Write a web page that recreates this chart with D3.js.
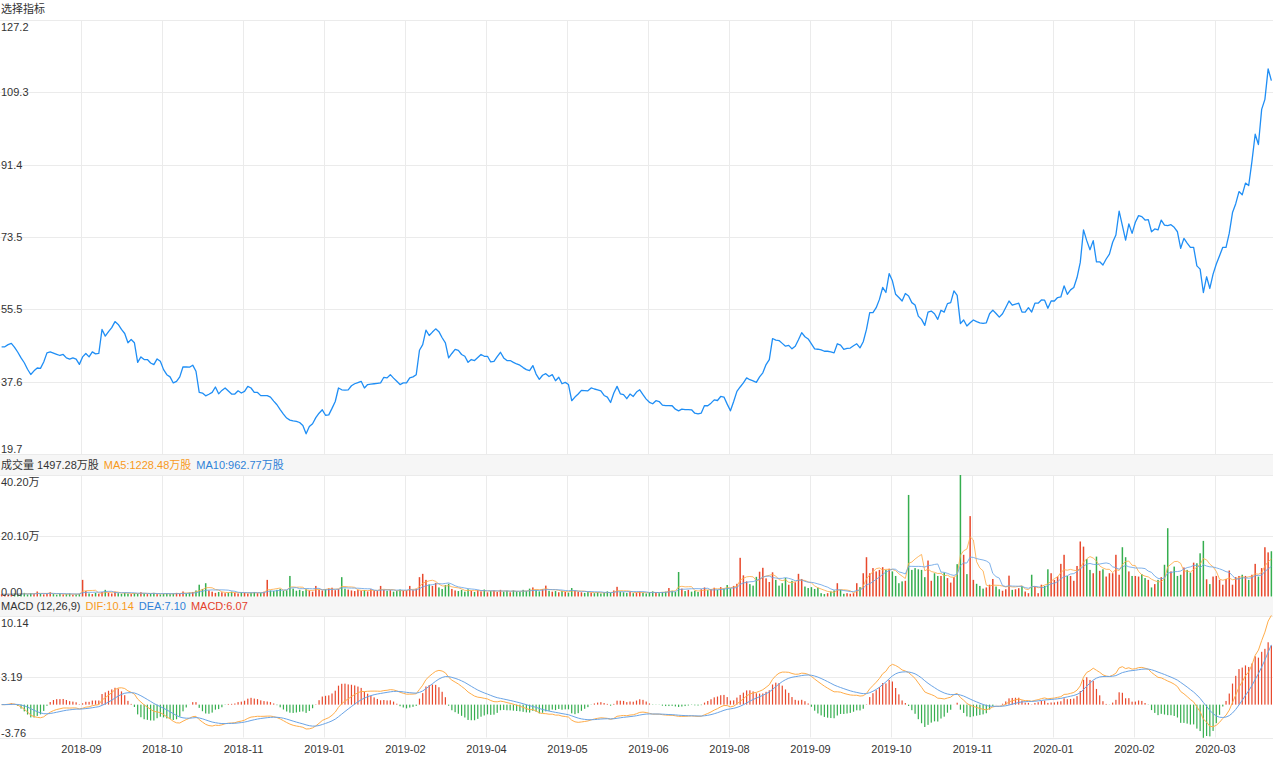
<!DOCTYPE html>
<html><head><meta charset="utf-8">
<script src="https://cdn.jsdelivr.net/npm/d3@7"></script>
<style>
body{margin:0;background:#fff;}
svg{display:block;font-family:"Liberation Sans",Arial,"Noto Sans CJK SC",sans-serif;}
</style></head><body>
<svg id="c" width="1273" height="759"></svg>
<script>
// ---- DATA ----
const closePrices = [
46.25,46.25,46.8,47.1,46.1,44.9,43.5,42.3,40.7,39.4,40.3,41.0,40.9,42.5,44.75,45.0,44.7,44.4,44.1,44.35,
43.5,43.2,43.5,43.2,41.9,43.75,44.6,43.75,45.0,44.5,44.6,50.55,48.9,50.0,51.0,52.5,51.8,50.55,49.55,47.25,
48.05,47.25,42.4,43.75,43.1,43.1,42.25,41.85,43.25,42.65,40.6,39.35,38.8,37.3,37.7,38.8,41.3,41.25,41.2,41.7,
40.2,34.95,34.8,34.1,34.5,34.95,36.3,34.6,35.45,36.05,35.3,34.55,34.55,35.35,34.8,35.2,36.45,36.05,34.95,34.95,
34.15,34.15,34.15,33.8,32.8,31.9,30.7,29.6,28.6,28.1,27.9,27.8,27.5,26.75,24.7,26.5,27.2,28.7,29.8,30.65,
29.3,29.4,31.0,32.7,36.05,35.6,35.5,35.6,36.6,37.1,37.4,37.7,36.05,36.9,37.0,37.1,37.2,37.3,38.7,38.55,
39.35,38.5,37.7,36.9,37.3,37.3,38.55,38.8,39.35,45.4,46.8,50.4,49.05,49.9,50.7,50.0,48.5,47.25,43.5,44.6,
45.6,45.35,44.35,43.9,42.4,43.1,42.85,43.6,44.35,43.9,43.9,42.5,42.65,43.8,44.9,43.5,42.85,42.85,42.4,42.0,
41.7,41.1,40.6,40.35,41.6,39.5,38.2,39.2,39.6,38.9,39.35,37.85,38.7,37.1,37.45,36.9,32.9,33.8,34.55,35.45,
35.4,35.35,36.05,35.8,35.6,35.35,34.2,33.8,32.45,34.8,36.45,34.6,34.4,33.4,34.55,33.95,35.05,35.6,34.4,33.3,
32.5,32.15,32.9,32.7,31.8,31.7,31.7,31.65,30.8,30.4,30.8,30.7,30.7,30.65,29.8,29.65,29.85,31.7,31.65,32.3,
33.1,32.95,33.95,33.8,32.05,30.4,32.7,35.2,36.3,37.3,38.55,38.1,37.8,37.45,38.8,39.8,41.85,43.1,48.3,47.9,
47.8,47.1,46.4,46.6,45.75,46.4,48.0,49.75,48.75,48.2,47.0,45.75,45.65,45.5,45.15,45.15,45.0,44.75,47.0,46.65,
45.6,45.85,45.95,46.5,47.0,46.0,47.5,50.55,54.7,54.7,55.95,58.0,60.95,59.7,64.4,62.6,59.25,58.45,57.6,59.45,
58.85,57.2,56.6,53.85,53.05,51.55,54.85,55.1,54.45,53.05,55.3,54.85,56.95,57.2,60.1,59.0,52.0,52.9,51.4,52.2,
52.9,52.5,52.2,52.05,52.2,54.45,55.35,54.5,53.6,54.45,56.0,57.6,56.55,56.8,57.05,54.85,54.85,55.95,54.85,57.05,
57.05,57.85,57.8,55.8,57.6,57.6,58.45,58.6,61.35,59.25,60.35,60.95,63.4,67.15,75.2,72.55,70.3,72.55,67.3,67.3,
66.5,68.0,69.2,72.15,73.95,79.85,76.25,72.7,76.7,74.35,77.1,78.75,78.5,77.65,77.75,74.75,75.45,75.2,77.65,76.4,
76.25,76.5,75.85,74.75,70.65,73.1,71.95,70.9,70.9,66.3,65.5,59.7,63.6,60.7,64.25,66.75,68.8,70.9,70.9,74.4,
79.5,81.7,84.7,83.9,86.8,86.2,92.2,98.9,96.35,105.05,107.55,115.1,112.2
];
// volume in 万手
const volumes = [
0.8,0.6,0.9,0.7,1.0,0.8,0.9,1.2,0.7,1.1,0.8,1.65,0.9,0.7,1.0,1.4,0.8,0.6,0.9,0.7,0.8,1.0,0.6,0.7,0.9,
5.5,1.8,1.0,0.8,1.2,0.9,1.5,2.2,1.3,1.0,1.6,1.1,0.9,1.2,1.0,0.8,1.1,0.9,1.4,1.0,0.8,0.9,1.2,0.8,0.7,
0.9,1.1,0.8,1.0,1.2,0.9,1.65,1.0,1.3,1.5,2.0,3.9,2.5,4.4,2.0,1.6,1.2,1.5,1.4,1.1,1.3,1.6,1.2,1.0,1.4,
1.2,1.0,1.3,1.5,1.1,1.2,1.6,5.5,2.0,1.8,2.2,2.5,1.9,2.1,6.8,2.6,1.9,2.2,1.8,2.4,2.0,1.6,3.5,2.2,2.0,
2.4,2.7,2.9,2.1,2.5,6.4,2.6,2.3,2.0,1.8,2.2,1.9,2.1,1.7,2.4,2.0,1.8,3.5,2.2,1.9,2.1,1.6,1.8,2.3,1.9,2.0,3.5,2.1,2.6,6.4,
7.5,5.5,4.0,3.5,4.5,3.0,2.5,3.8,4.2,2.5,2.0,1.8,2.2,1.6,2.4,1.9,1.5,2.1,1.7,2.3,1.4,1.8,2.0,1.5,2.2,
1.6,1.9,1.4,2.0,1.7,1.5,2.2,1.8,2.6,3.0,2.1,1.7,2.4,3.6,1.9,1.6,1.8,1.4,1.9,1.5,1.3,2.8,1.9,1.6,1.4,
1.2,1.5,1.3,1.1,1.4,1.0,1.3,1.7,1.2,2.0,3.2,1.6,1.4,1.2,1.5,1.1,1.3,1.6,1.2,1.0,1.4,1.7,1.3,1.1,1.5,
1.6,2.8,1.9,1.5,8.1,2.6,1.8,2.2,1.6,1.9,1.5,2.4,3.0,2.1,2.5,2.9,2.2,3.1,2.6,3.8,2.7,3.5,4.2,12.8,7.0,
5.0,4.1,3.6,6.5,8.2,9.5,6.0,4.8,8.0,5.5,3.6,4.4,6.1,3.9,5.2,4.7,7.5,5.8,3.3,2.8,3.1,2.5,2.9,
1.1,0.8,1.1,1.65,2.0,4.4,2.2,0.9,1.1,0.9,1.1,4.4,3.1,7.7,13.0,7.7,9.4,8.3,8.8,9.7,
8.8,9.2,8.3,6.8,4.4,5.0,5.2,33.6,8.8,9.4,9.0,8.8,6.4,11.9,5.2,7.7,6.8,6.8,7.9,6.1,
4.6,6.4,10.7,40.2,13.8,7.4,26.6,5.5,4.2,3.5,2.6,3.0,3.9,5.8,3.3,2.4,1.9,2.4,6.9,2.2,
2.4,2.75,3.5,1.65,1.1,7.2,3.3,1.1,3.9,3.5,9.0,7.7,5.5,6.6,10.8,13.8,6.8,6.8,5.2,10.1,
18.2,16.5,12.4,8.8,7.7,13.2,8.5,9.0,6.6,7.7,7.7,13.8,7.2,16.3,13.0,8.3,6.8,6.8,6.6,7.4,
6.1,5.5,3.0,4.1,5.5,6.4,10.5,22.6,8.3,9.9,6.8,7.2,9.6,8.8,7.9,11.2,11.0,14.3,18.4,5.7,
4.1,6.6,6.8,5.5,3.9,5.8,8.6,3.9,6.4,6.8,7.2,6.8,5.5,7.2,10.8,6.6,9.4,16.3,14.6,14.97
];
const xTickIndex = [25,50,75,100,125,150,175,200,225,250,275,300,325,350,375];
const xTickLabels = ["2018-09","2018-10","2018-11","2019-01","2019-02","2019-04","2019-05","2019-06","2019-08","2019-09","2019-10","2019-11","2020-01","2020-02","2020-03"];
const priceTicks = [127.2,109.3,91.4,73.5,55.5,37.6,19.7];
const volTicks = [40.20,20.10,0];
const volTickLabels = ["40.20万","20.10万","0.00"];
const macdTicks = [10.14,3.19,-3.76];
const macdTickLabels = ["10.14","3.19","-3.76"];
const titleText = "选择指标";
const volLegendTexts = ["成交量 1497.28万股","MA5:1228.48万股","MA10:962.77万股"];
const macdLegendTexts = ["MACD (12,26,9)","DIF:10.14","DEA:7.10","MACD:6.07"];

// ---- derived indicators ----
const N = closePrices.length;
function ma(arr,n){return arr.map((v,i)=>{const s=arr.slice(Math.max(0,i-n+1),i+1);return d3.mean(s);});}
function ema(arr,n){const a=2/(n+1);let out=[];arr.forEach((v,i)=>{out.push(i===0?v:a*v+(1-a)*out[i-1]);});return out;}
const ma5 = ma(volumes,5), ma10 = ma(volumes,10);
const e12 = ema(closePrices,12), e26 = ema(closePrices,26);
const dif = e12.map((v,i)=>v-e26[i]);
const dea = ema(dif,9).map((v,i)=>i===0?0:v);
const hist = dif.map((v,i)=>2*(v-dea[i]));

// ---- layout ----
const W = 1273;
const svg = d3.select("#c");
const C = {grid:"#ebebeb", text:"#333", line:"#1f8ef5", up:"#e8482c", down:"#35ae4f",
  orange:"#ffad4a", blue:"#6aa4e6", orangeT:"#f89a1c", blueT:"#2f82d8", red:"#e4402a", band:"#f6f6f6"};
const P = {top:20, bottom:454};
const V = {top:475, bottom:597};
const M = {top:616, bottom:737.5};

const x = d3.scaleBand().domain(d3.range(N)).range([0,W]).padding(0);
const bw = x.bandwidth();
const cx = i => x(i) + bw/2;
const yP = d3.scaleLinear().domain([19.7,127.2]).range([P.bottom,P.top]);
const yV = d3.scaleLinear().domain([0,40.2]).range([V.bottom-0.5,V.top]);
const yM = d3.scaleLinear().domain([-3.76,10.14]).range([M.bottom,M.top]);

// legend bands
svg.append("rect").attr("x",0).attr("y",P.bottom).attr("width",W).attr("height",V.top-P.bottom).attr("fill",C.band);
svg.append("rect").attr("x",0).attr("y",V.bottom).attr("width",W).attr("height",M.top-V.bottom).attr("fill",C.band);

// grids
function hgrid(scale, ticks){
  svg.append("g").selectAll("line").data(ticks).join("line")
    .attr("x1",0).attr("x2",W)
    .attr("y1",d=>Math.round(scale(d))+0.5).attr("y2",d=>Math.round(scale(d))+0.5)
    .attr("stroke",C.grid).attr("stroke-width",1);
}
function vgrid(top,bottom){
  svg.append("g").selectAll("line").data(xTickIndex).join("line")
    .attr("x1",d=>Math.round(x(d))+0.5).attr("x2",d=>Math.round(x(d))+0.5)
    .attr("y1",top).attr("y2",bottom).attr("stroke",C.grid).attr("stroke-width",1);
}
hgrid(yP, priceTicks); vgrid(P.top,P.bottom);
hgrid(yV, volTicks.slice(0,2)); vgrid(V.top,V.bottom);
hgrid(yM, macdTicks); vgrid(M.top,M.bottom);

// price line
svg.append("path").datum(closePrices)
  .attr("d", d3.line().x((d,i)=>cx(i)).y(d=>yP(d)))
  .attr("fill","none").attr("stroke",C.line).attr("stroke-width",1.3).attr("stroke-linejoin","round");

// volume bars
const vbw = 1.5;
svg.append("g").selectAll("rect").data(volumes).join("rect")
  .attr("x",(d,i)=>cx(i)-vbw/2).attr("width",vbw)
  .attr("y",d=>yV(d)).attr("height",d=>Math.max(0.6,yV(0)-yV(d)))
  .attr("fill",(d,i)=> (i===0 || closePrices[i]>=closePrices[i-1]) ? C.up : C.down);
svg.append("path").datum(ma5).attr("d",d3.line().x((d,i)=>cx(i)).y(d=>yV(d)))
  .attr("fill","none").attr("stroke",C.orange).attr("stroke-width",1).attr("opacity",0.85);
svg.append("path").datum(ma10).attr("d",d3.line().x((d,i)=>cx(i)).y(d=>yV(d)))
  .attr("fill","none").attr("stroke",C.blue).attr("stroke-width",1).attr("opacity",0.85);

// MACD
const mbw = 1.2;
svg.append("g").selectAll("rect").data(hist).join("rect")
  .attr("x",(d,i)=>cx(i)-mbw/2).attr("width",mbw)
  .attr("y",d=>Math.min(yM(d),yM(0))).attr("height",d=>Math.abs(yM(d)-yM(0)))
  .attr("fill",d=>d>=0?C.up:C.down);
svg.append("path").datum(dif).attr("d",d3.line().x((d,i)=>cx(i)).y(d=>yM(d)))
  .attr("fill","none").attr("stroke",C.orange).attr("stroke-width",1);
svg.append("path").datum(dea).attr("d",d3.line().x((d,i)=>cx(i)).y(d=>yM(d)))
  .attr("fill","none").attr("stroke",C.blue).attr("stroke-width",1);

// y labels
function ylabels(scale, ticks, labels, top, bottom){
  svg.append("g").selectAll("text").data(ticks).join("text")
    .attr("x",1)
    .attr("y",(d,i)=>{const y=scale(d); if(i===0) return top+7; if(i===ticks.length-1) return bottom-5; return y;})
    .attr("dominant-baseline","central").attr("font-size",11).attr("fill",C.text)
    .text((d,i)=>labels[i]);
}
ylabels(yP, priceTicks, priceTicks.map(d=>d.toFixed(1)), P.top, P.bottom);
ylabels(yV, volTicks, volTickLabels, V.top, V.bottom);
ylabels(yM, macdTicks, macdTickLabels, M.top, M.bottom);

// x labels
svg.append("g").selectAll("text").data(xTickIndex).join("text")
  .attr("x",d=>Math.round(x(d))+0.5).attr("y",749)
  .attr("text-anchor","middle").attr("dominant-baseline","central")
  .attr("font-size",11).attr("fill",C.text).text((d,i)=>xTickLabels[i]);

// title
svg.append("text").attr("x",1).attr("y",9).attr("dominant-baseline","central")
  .attr("font-size",11).attr("fill",C.text).text(titleText);

// legends
function legend(y, texts, colors){
  const t = svg.append("text").attr("x",1).attr("y",y).attr("dominant-baseline","central").attr("font-size",11);
  texts.forEach((s,i)=>{ t.append("tspan").attr("dx",i===0?0:5).attr("fill",colors[i]).text(s); });
}
legend(465, volLegendTexts, [C.text, C.orangeT, C.blueT]);
legend(606, macdLegendTexts, [C.text, C.orangeT, C.blueT, C.red]);
</script>
</body></html>
